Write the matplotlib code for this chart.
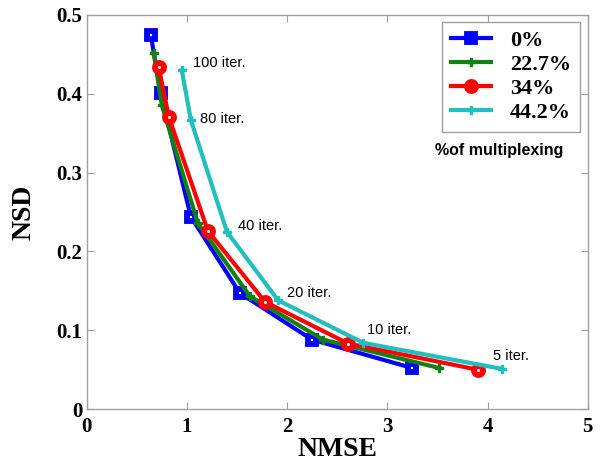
import matplotlib
matplotlib.use("Agg")
import matplotlib.pyplot as plt

# NMSE / NSD values per multiplexing percentage (5,10,20,40,80,100 iter. from right to left)
nmse_0 = [0.64, 0.74, 1.04, 1.53, 2.25, 3.25]
nsd_0 = [0.475, 0.401, 0.244, 0.147, 0.088, 0.052]
nmse_22 = [0.67, 0.75, 1.11, 1.63, 2.36, 3.52]
nsd_22 = [0.452, 0.386, 0.236, 0.143, 0.088, 0.052]
nmse_34 = [0.72, 0.82, 1.21, 1.78, 2.61, 3.90]
nsd_34 = [0.434, 0.371, 0.226, 0.136, 0.083, 0.050]
nmse_44 = [0.95, 1.04, 1.40, 1.91, 2.76, 4.14]
nsd_44 = [0.430, 0.367, 0.225, 0.138, 0.084, 0.051]

iter_labels = ["100 iter.", "80 iter.", "40 iter.", "20 iter.", "10 iter.", "5 iter."]
label_x = [1.06, 1.13, 1.51, 2.00, 2.80, 4.05]
label_y = [0.439, 0.368, 0.232, 0.147, 0.100, 0.067]

legend_names = ["0%", "22.7%", "34%", "44.2%"]

serif = "Liberation Serif"
sans = "Liberation Sans"
gray = "#a0a0a0"

fig = plt.figure(figsize=(6.01, 4.71), dpi=100)
ax = fig.add_axes([0.144, 0.1316, 0.834, 0.8366])

ax.plot(nmse_0, nsd_0, color="#0000ff", lw=3, marker="s", ms=6,
        mfc="white", mec="#0000ff", mew=4.2, label=legend_names[0])
ax.plot(nmse_22, nsd_22, color="#138013", lw=3, marker="P", ms=6,
        mfc="#138013", mec="#138013", mew=1, label=legend_names[1])
ax.plot(nmse_34, nsd_34, color="#ff0000", lw=3, marker="o", ms=6.5,
        mfc="white", mec="#ff0000", mew=4.2, label=legend_names[2])
ax.plot(nmse_44, nsd_44, color="#22bfbf", lw=3, marker="P", ms=6,
        mfc="#22bfbf", mec="#22bfbf", mew=1, label=legend_names[3])

for txt, tx, ty in zip(iter_labels, label_x, label_y):
    ax.text(tx, ty, txt, ha="left", va="center", fontsize=10.5, family=sans)

ax.set_xlim(0, 5)
ax.set_ylim(0, 0.5)
ax.set_xticks([0, 1, 2, 3, 4, 5])
ax.set_yticks([0, 0.1, 0.2, 0.3, 0.4, 0.5])
ax.set_xticklabels(["0", "1", "2", "3", "4", "5"])
ax.set_yticklabels(["0", "0.1", "0.2", "0.3", "0.4", "0.5"])
for lab in ax.get_xticklabels() + ax.get_yticklabels():
    lab.set_family(serif)
    lab.set_fontweight("bold")
    lab.set_fontsize(15)

ax.tick_params(direction="in", length=5, color=gray, top=True, right=True)
ax.tick_params(axis="x", pad=6)
ax.tick_params(axis="y", pad=3)
for sp in ax.spines.values():
    sp.set_color(gray)
    sp.set_linewidth(1)

ax.set_xlabel("NMSE", family=serif, fontweight="bold", fontsize=20, labelpad=0)
ax.set_ylabel("NSD", family=serif, fontweight="bold", fontsize=20, labelpad=14)

leg = ax.legend(loc="upper right", bbox_to_anchor=(0.985, 0.983), borderaxespad=0,
                prop={"family": serif, "weight": "bold", "size": 16},
                handlelength=1.8, labelspacing=0.15, handletextpad=0.85,
                fancybox=False, framealpha=1, borderpad=0.4)
leg.get_frame().set_edgecolor(gray)
leg.get_frame().set_linewidth(1)
for h in leg.legend_handles:
    h.set_markerfacecolor(h.get_color())

ax.text(0.824, 0.657, "%of multiplexing", transform=ax.transAxes, ha="center",
        va="center", fontsize=11.5, fontweight="bold", family=sans)

fig.savefig("out.png", dpi=100)
